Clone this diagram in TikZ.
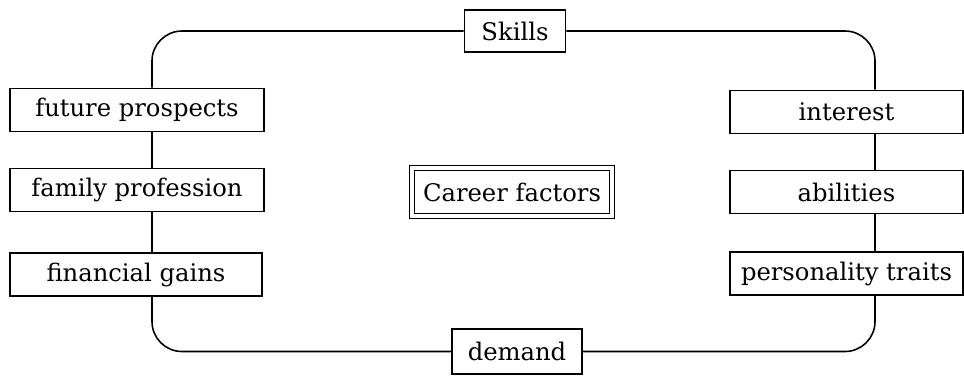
\documentclass[tikz,border=0pt]{standalone}
\usepackage{fontspec}
\setmainfont{DejaVu Serif}
\usepackage{tikz}
\usepackage{xcolor}

\begin{document}
\begin{tikzpicture}[line width=0.9pt,
	box/.style={draw,fill=white,inner sep=0pt,minimum height=0.86cm,font=\fontsize{13.8}{16}\selectfont},
	side/.style={box,minimum width=5.08cm},
	link/.style={rounded corners=0.6cm}]
					\useasboundingbox (0,0) rectangle (19.28,-7.58);
					\coordinate (lft) at (3.04,0);
					\coordinate (rgt) at (17.5,0);
					\node[box,minimum width=2.02cm,minimum height=0.84cm] (skills) at (10.3,-0.62){Skills};
					\node[box,minimum width=2.6cm,minimum height=0.9cm] (demand) at (10.34,-7.03){demand};
					\node[box,double,double distance=2.4pt,line width=0.5pt,minimum width=4.0cm,minimum height=0.95cm] (career) at (10.24,-3.84){Career factors};
					\node[side] (future) at (2.74,-2.2){future prospects};
					\node[side] (family) at (2.74,-3.8){family profession};
					\node[side,minimum width=5.04cm] (gains) at (2.72,-5.49){financial gains};
					\node[side,minimum width=4.66cm] (interest) at (16.93,-2.24){interest};
					\node[side,minimum width=4.66cm] (abilities) at (16.93,-3.84){abilities};
					\node[side,minimum width=4.66cm] (traits) at (16.93,-5.47){personality traits};
					\draw[link] (future.north -| lft) |- (skills.west);
					\draw[link] (skills.east) -| (interest.north -| rgt);
					\draw (interest.south -| rgt)--(abilities.north -| rgt);
					\draw (abilities.south -| rgt)--(traits.north -| rgt);
					\draw[link] (traits.south -| rgt) |- (demand.east);
					\draw[link] (demand.west) -| (gains.south -| lft);
					\draw (gains.north -| lft)--(family.south -| lft);
					\draw (family.north -| lft)--(future.south -| lft);
				\end{tikzpicture}
\end{document}
